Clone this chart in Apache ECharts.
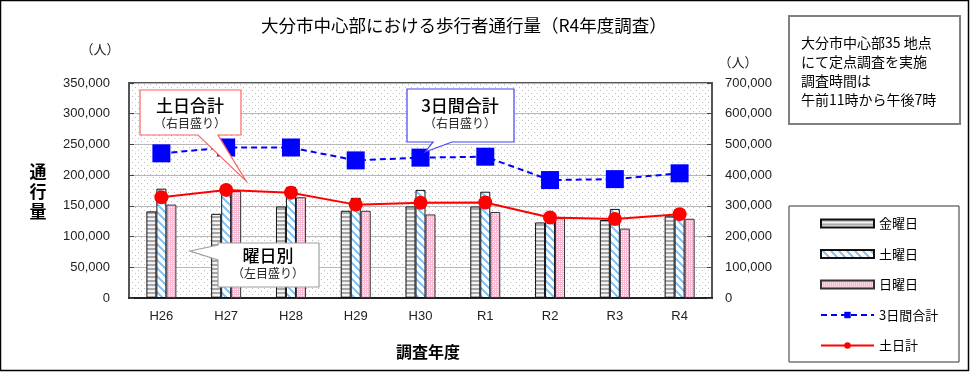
<!DOCTYPE html>
<html><head><meta charset="utf-8">
<script src="https://cdn.jsdelivr.net/npm/echarts@6/dist/echarts.min.js"></script>
<style>html,body{margin:0;padding:0;background:#fff}#c{width:970px;height:372px}</style>
</head><body><div id="c"></div>
<script>
// ---- data ----
const categories = ['H26','H27','H28','H29','H30','R1','R2','R3','R4'];
const friday   = [141000,137000,149000,142000,149000,149000,123000,127000,133000];
const saturday = [178000,178000,181000,163000,176000,173000,131000,145000,145000];
const sunday   = [152000,174000,164000,142000,136000,140000,130000,113000,129000];
const total3   = [471000,490000,490000,448000,457000,460000,384000,387000,406000];
const satSun   = [328000,352000,343000,304000,310000,311000,262000,257000,273000];
const leftTicks  = {min:0, max:350000, interval:50000};
const rightTicks = {min:0, max:700000, interval:100000};
const seriesNames = ['金曜日','土曜日','日曜日','3日間合計','土日計'];

// ---- patterns (style only) ----
function makePattern(w,h,draw){const c=document.createElement('canvas');c.width=w;c.height=h;const g=c.getContext('2d');draw(g,w,h);return {image:c,repeat:'repeat'};}
const dotBg = makePattern(6,6,g=>{g.fillStyle='#fff';g.fillRect(0,0,6,6);g.fillStyle='#bdbdbd';g.fillRect(0,0,1,1);g.fillRect(3,3,1,1);});
const grayStripe = makePattern(4,4,g=>{g.fillStyle='#f2f2f2';g.fillRect(0,0,4,4);g.fillStyle='#a8a8a8';g.fillRect(0,0,4,2);});
const blueStripe = makePattern(8,8,g=>{g.fillStyle='#fff';g.fillRect(0,0,8,8);g.fillStyle='#8ec4f2';for(let x=0;x<8;x++)for(let y=0;y<8;y++){if((((x-y)%8)+8)%8<3)g.fillRect(x,y,1,1);}});
const pinkHatch = makePattern(4,4,g=>{g.fillStyle='#f8b9d4';g.fillRect(0,0,4,4);g.fillStyle='#fff';g.fillRect(1,1,1,1);g.fillRect(3,3,1,1);g.fillStyle='#fde3ee';g.fillRect(3,1,1,1);g.fillRect(1,3,1,1);});

const fmt = v => v.toString().replace(/\B(?=(\d{3})+(?!\d))/g, ',');
const FONT = '"Liberation Sans", "Noto Sans CJK JP", sans-serif';
const JFONT = '"Noto Sans CJK JP", sans-serif';

function callout(points, stroke, tx, ty, main, sub){
  return [
    {type:'polygon', shape:{points}, style:{fill:'#fff', stroke, lineWidth:1.2}, z:100},
    {type:'text', x:tx, y:ty, style:{text:main, font:'500 17px '+JFONT, fill:'#000', textAlign:'center', textVerticalAlign:'middle'}, z:101},
    {type:'text', x:tx, y:ty+17, style:{text:sub, font:'12px '+JFONT, fill:'#222', textAlign:'center', textVerticalAlign:'middle'}, z:101}
  ];
}

const chart = echarts.init(document.getElementById('c'), null, {renderer:'canvas'});
const barCommon = {type:'bar', yAxisIndex:0, barWidth:10, barGap:'0%', z:2};
chart.setOption({
  animation:false,
  title:{text:'大分市中心部における歩行者通行量（R4年度調査）', left:256, top:12,
    textStyle:{fontFamily:JFONT, fontSize:17.5, fontWeight:'normal', color:'#000'}},
  grid:{left:129, right:258, top:83, bottom:74, show:true, backgroundColor:dotBg, borderColor:'#555', borderWidth:2},
  legend:{orient:'vertical', left:815, top:212, itemWidth:53, itemHeight:8, itemGap:17.5,
    data:[
      {name:seriesNames[0], icon:'rect'},
      {name:seriesNames[1], icon:'rect'},
      {name:seriesNames[2], icon:'rect'},
      {name:seriesNames[3]},
      {name:seriesNames[4]}
    ], textStyle:{fontFamily:JFONT, fontSize:13, color:'#000'}, selectedMode:false},
  xAxis:{type:'category', data:categories, boundaryGap:true,
    axisLine:{lineStyle:{color:'#222', width:2}}, axisTick:{inside:true, length:5, lineStyle:{color:'#222'}},
    axisLabel:{fontFamily:FONT, fontSize:13, color:'#222', margin:12}},
  yAxis:[
    {type:'value', min:leftTicks.min, max:leftTicks.max, interval:leftTicks.interval,
     axisLine:{show:false}, axisTick:{show:true, inside:true, length:5, lineStyle:{color:'#444'}},
     splitLine:{lineStyle:{color:'#b8b8b8', width:1}},
     axisLabel:{formatter:fmt, fontFamily:FONT, fontSize:13, color:'#222', margin:19}},
    {type:'value', min:rightTicks.min, max:rightTicks.max, interval:rightTicks.interval,
     axisLine:{show:false}, axisTick:{show:true, inside:true, length:5, lineStyle:{color:'#444'}},
     splitLine:{show:false},
     axisLabel:{formatter:fmt, fontFamily:FONT, fontSize:13, color:'#222', margin:13}}
  ],
  series:[
    Object.assign({name:seriesNames[0], data:friday, itemStyle:{color:grayStripe, borderColor:'#111', borderWidth:1}}, barCommon),
    Object.assign({name:seriesNames[1], data:saturday, itemStyle:{color:blueStripe, borderColor:'#111', borderWidth:1}}, barCommon),
    Object.assign({name:seriesNames[2], data:sunday, itemStyle:{color:pinkHatch, borderColor:'#333', borderWidth:1}}, barCommon),
    {name:seriesNames[3], type:'line', yAxisIndex:1, data:total3, symbol:'rect', symbolSize:18, z:5,
     lineStyle:{color:'#0000ff', width:2, type:[6,4]}, itemStyle:{color:'#0000ff'}},
    {name:seriesNames[4], type:'line', yAxisIndex:1, data:satSun, symbol:'circle', symbolSize:14, z:6,
     lineStyle:{color:'#ff0000', width:2}, itemStyle:{color:'#ff0000'}}
  ],
  graphic:[
    {type:'rect', shape:{x:0.5, y:0.5, width:968, height:370}, style:{fill:'none', stroke:'#000', lineWidth:1.5}, z:0, silent:true},
    {type:'rect', shape:{x:789, y:206, width:170, height:156}, style:{fill:'none', stroke:'#333', lineWidth:1}, z:0},
    {type:'rect', shape:{x:789, y:16, width:171, height:108}, style:{fill:'#fff', stroke:'#808080', lineWidth:2}, z:0},
    {type:'text', x:801, y:33, style:{text:'大分市中心部35 地点\nにて定点調査を実施\n調査時間は\n午前11時から午後7時', font:'14px '+JFONT, fill:'#000', lineHeight:19}},
    {type:'text', x:100, y:49, style:{text:'（人）', font:'13px '+JFONT, fill:'#222', textAlign:'center', textVerticalAlign:'middle'}},
    {type:'text', x:738, y:62, style:{text:'（人）', font:'13px '+JFONT, fill:'#222', textAlign:'center', textVerticalAlign:'middle'}},
    {type:'text', x:38, y:192, style:{text:'通\n行\n量', font:'bold 17px '+JFONT, fill:'#000', textAlign:'center', textVerticalAlign:'middle', lineHeight:20}},
    {type:'text', x:428, y:352, style:{text:'調査年度', font:'bold 16px '+JFONT, fill:'#000', textAlign:'center', textVerticalAlign:'middle'}},
    ...callout([[140,90],[241,90],[241,135],[218,135],[246,181],[198,135],[140,135]], '#ff6060', 190, 106, '土日合計', '（右目盛り）'),
    ...callout([[407,89],[514,89],[514,142],[452,142],[425,152],[433,142],[407,142]], '#4040ff', 460, 106, '3日間合計', '（右目盛り）'),
    ...callout([[218,243],[319,243],[319,287],[218,287],[218,260],[190,251],[218,245]], '#a0a0a0', 268, 256, '曜日別', '（左目盛り）')
  ]
});
</script></body></html>
